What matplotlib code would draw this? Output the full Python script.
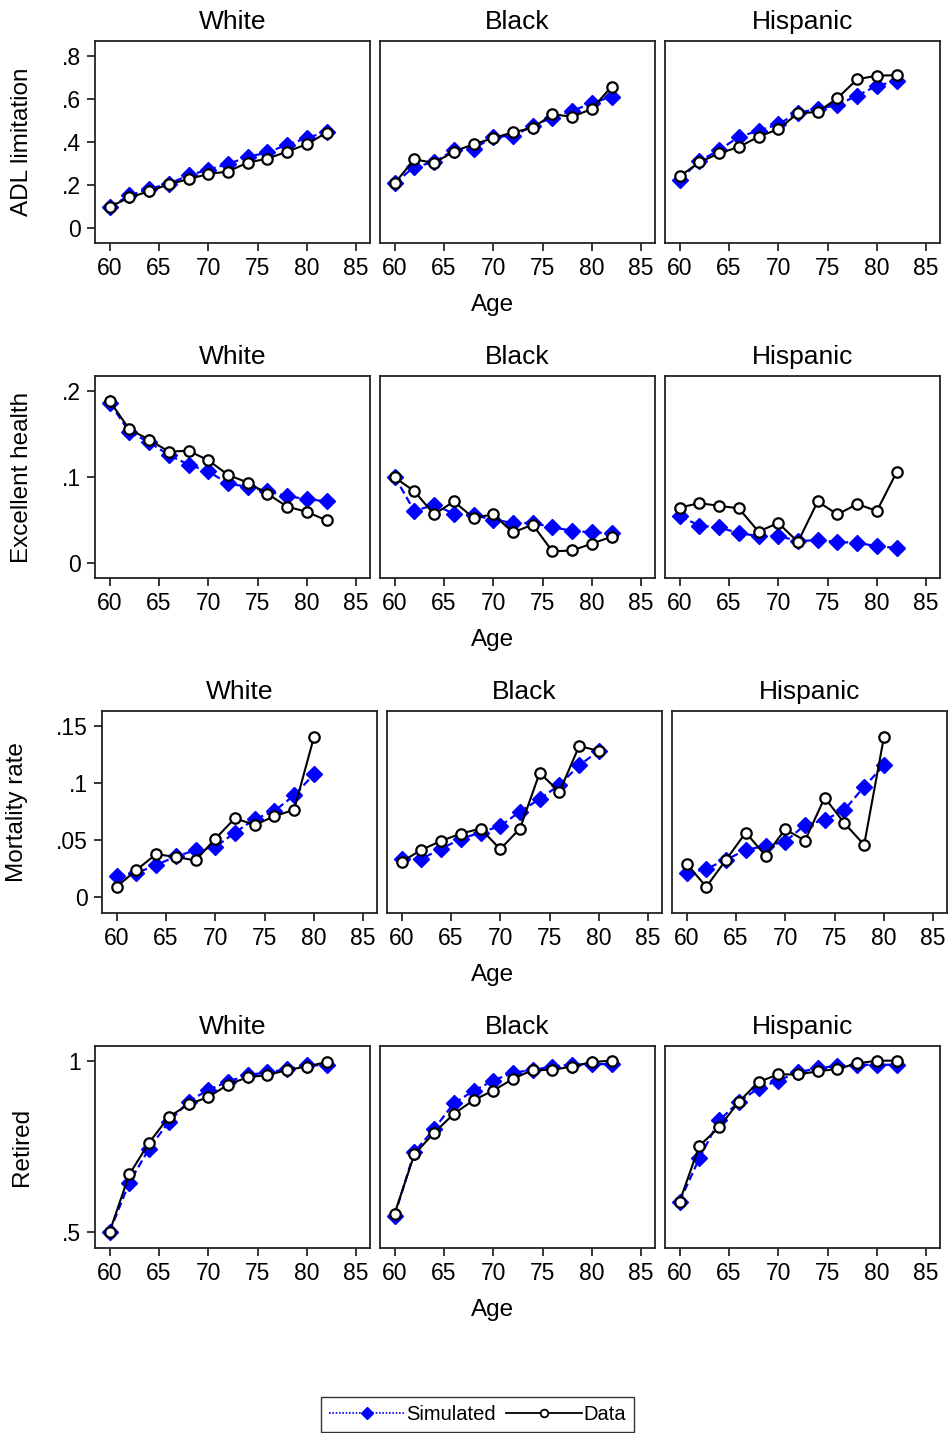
import matplotlib
matplotlib.use("Agg")
import matplotlib.pyplot as plt
from matplotlib.lines import Line2D

plt.rcParams['font.family'] = ['Liberation Sans', 'DejaVu Sans']

groups = ["White", "Black", "Hispanic"]
ages_full = [60, 62, 64, 66, 68, 70, 72, 74, 76, 78, 80, 82]
ages_mort = [60, 62, 64, 66, 68, 70, 72, 74, 76, 78, 80]

# ADL limitation
adl_sim = {
    "White":    [0.096, 0.150, 0.180, 0.205, 0.243, 0.270, 0.296, 0.329, 0.350, 0.386, 0.417, 0.446],
    "Black":    [0.206, 0.284, 0.304, 0.361, 0.366, 0.423, 0.426, 0.474, 0.512, 0.543, 0.579, 0.609],
    "Hispanic": [0.223, 0.310, 0.361, 0.422, 0.451, 0.481, 0.535, 0.552, 0.571, 0.614, 0.660, 0.682],
}
adl_data = {
    "White":    [0.096, 0.141, 0.169, 0.202, 0.226, 0.250, 0.261, 0.303, 0.321, 0.354, 0.388, 0.442],
    "Black":    [0.206, 0.318, 0.301, 0.354, 0.388, 0.416, 0.444, 0.464, 0.527, 0.516, 0.552, 0.656],
    "Hispanic": [0.239, 0.304, 0.346, 0.375, 0.423, 0.458, 0.532, 0.538, 0.602, 0.690, 0.707, 0.709],
}

# Excellent health
eh_sim = {
    "White":    [0.186, 0.152, 0.140, 0.125, 0.114, 0.106, 0.092, 0.088, 0.083, 0.077, 0.074, 0.071],
    "Black":    [0.100, 0.060, 0.067, 0.057, 0.055, 0.050, 0.046, 0.046, 0.041, 0.037, 0.035, 0.034],
    "Hispanic": [0.054, 0.043, 0.041, 0.034, 0.031, 0.031, 0.025, 0.026, 0.024, 0.023, 0.019, 0.017],
}
eh_data = {
    "White":    [0.188, 0.155, 0.143, 0.129, 0.130, 0.119, 0.102, 0.093, 0.080, 0.065, 0.059, 0.049],
    "Black":    [0.099, 0.083, 0.056, 0.071, 0.052, 0.056, 0.035, 0.044, 0.013, 0.014, 0.022, 0.030],
    "Hispanic": [0.064, 0.069, 0.066, 0.063, 0.036, 0.046, 0.024, 0.071, 0.056, 0.068, 0.060, 0.105],
}

# Mortality rate
mort_sim = {
    "White":    [0.0189, 0.0213, 0.0283, 0.0358, 0.0413, 0.0440, 0.0567, 0.0684, 0.0756, 0.0893, 0.1076],
    "Black":    [0.0337, 0.0337, 0.0425, 0.0512, 0.0567, 0.0625, 0.0750, 0.0861, 0.0983, 0.1155, 0.1282],
    "Hispanic": [0.0215, 0.0250, 0.0329, 0.0416, 0.0451, 0.0488, 0.0634, 0.0678, 0.0765, 0.0968, 0.1155],
}
mort_data = {
    "White":    [0.0093, 0.0239, 0.0378, 0.0355, 0.0323, 0.0512, 0.0692, 0.0634, 0.0710, 0.0767, 0.1400],
    "Black":    [0.0311, 0.0416, 0.0494, 0.0558, 0.0602, 0.0422, 0.0602, 0.1090, 0.0922, 0.1323, 0.1282],
    "Hispanic": [0.0294, 0.0093, 0.0329, 0.0567, 0.0366, 0.0596, 0.0497, 0.0872, 0.0649, 0.0460, 0.1399],
}

# Retired
ret_sim = {
    "White":    [0.502, 0.645, 0.744, 0.822, 0.881, 0.915, 0.939, 0.958, 0.966, 0.975, 0.987, 0.986],
    "Black":    [0.549, 0.734, 0.801, 0.876, 0.912, 0.942, 0.965, 0.973, 0.983, 0.988, 0.990, 0.990],
    "Hispanic": [0.590, 0.716, 0.826, 0.880, 0.920, 0.942, 0.966, 0.978, 0.985, 0.988, 0.988, 0.988],
}
ret_data = {
    "White":    [0.502, 0.669, 0.761, 0.836, 0.873, 0.894, 0.930, 0.952, 0.958, 0.973, 0.983, 0.996],
    "Black":    [0.555, 0.727, 0.790, 0.845, 0.885, 0.913, 0.947, 0.973, 0.973, 0.983, 0.996, 1.000],
    "Hispanic": [0.590, 0.752, 0.806, 0.880, 0.938, 0.960, 0.960, 0.969, 0.976, 0.992, 1.000, 1.000],
}

x_ticks = [60, 65, 70, 75, 80, 85]

rows = [
    dict(label="ADL limitation", ages=ages_full, sim=adl_sim, data=adl_data,
         yticks=[0, 0.2, 0.4, 0.6, 0.8], yticklabels=["0", ".2", ".4", ".6", ".8"],
         ylim=(-0.071, 0.868)),
    dict(label="Excellent health", ages=ages_full, sim=eh_sim, data=eh_data,
         yticks=[0, 0.1, 0.2], yticklabels=["0", ".1", ".2"],
         ylim=(-0.018, 0.217)),
    dict(label="Mortality rate", ages=ages_mort, sim=mort_sim, data=mort_data,
         yticks=[0, 0.05, 0.1, 0.15], yticklabels=["0", ".05", ".1", ".15"],
         ylim=(-0.0136, 0.163)),
    dict(label="Retired", ages=ages_full, sim=ret_sim, data=ret_data,
         yticks=[0.5, 1.0], yticklabels=[".5", "1"],
         ylim=(0.4547, 1.0427)),
]

W, H = 948, 1433
fig = plt.figure(figsize=(W / 100, H / 100), dpi=100)

row_tops = [41, 376, 711, 1046]
panel_h = 202
panel_w = 274.5
col_lefts = [[95, 380, 665], [95, 380, 665], [102, 387, 672], [95, 380, 665]]
ylabel_x = [22, 22, 17, 22]

TICK_FS = 16.5
TITLE_FS = 19
LABEL_FS = 17.5

for r, spec in enumerate(rows):
    top = row_tops[r]
    for c, g in enumerate(groups):
        left = col_lefts[r][c]
        ax = fig.add_axes([left / W, 1 - (top + panel_h) / H, panel_w / W, panel_h / H])
        ax.plot(spec["ages"], spec["sim"][g], color="#0000ff", linestyle=(0, (3.5, 1.8)),
                linewidth=1.6, marker="D", markersize=8.5, markerfacecolor="#0000ff",
                markeredgecolor="#0000ff", zorder=2)
        ax.plot(spec["ages"], spec["data"][g], color="black", linestyle="-",
                linewidth=1.5, marker="o", markersize=7.5, markerfacecolor="white",
                markeredgecolor="black", markeredgewidth=1.6, zorder=3)
        ax.set_xlim(58.52, 86.35)
        ax.set_ylim(*spec["ylim"])
        ax.set_xticks(x_ticks)
        ax.set_xticklabels([str(t) for t in x_ticks])
        ax.set_yticks(spec["yticks"])
        if c == 0:
            ax.set_yticklabels(spec["yticklabels"])
        else:
            ax.set_yticklabels([])
            ax.tick_params(axis="y", left=False)
        ax.tick_params(axis="both", direction="out", length=6, width=1.1,
                       labelsize=TICK_FS, pad=4, colors="black")
        for s in ax.spines.values():
            s.set_linewidth(1.3)
            s.set_color("#222222")
        ax.set_title(g, fontsize=TITLE_FS, pad=8.5)
    fig.text(ylabel_x[r] / W, 1 - (top + panel_h / 2) / H, spec["label"],
             rotation=90, ha="center", va="center", fontsize=LABEL_FS)
    fig.text(493 / W, 1 - (top + 264) / H, "Age", ha="center", va="center",
             fontsize=LABEL_FS)

handles = [
    Line2D([], [], color="#0000ff", linestyle=(0, (1, 1)), linewidth=1.2, marker="D",
           markersize=6.5, markerfacecolor="#0000ff", markeredgecolor="#0000ff"),
    Line2D([], [], color="black", linestyle="-", linewidth=1.3, marker="o",
           markersize=5.5, markerfacecolor="white", markeredgecolor="black",
           markeredgewidth=1.3),
]
leg = fig.legend(handles, ["Simulated", "Data"], loc="center",
                 bbox_to_anchor=(477.5 / W, 1 - 1414.5 / H), ncol=2,
                 fontsize=14.5, frameon=True, fancybox=False, handlelength=3.75,
                 handletextpad=0.1, columnspacing=0.5, borderpad=0.4)
leg.get_frame().set_edgecolor("black")
leg.get_frame().set_linewidth(1.0)

fig.savefig("out.png", dpi=100)
